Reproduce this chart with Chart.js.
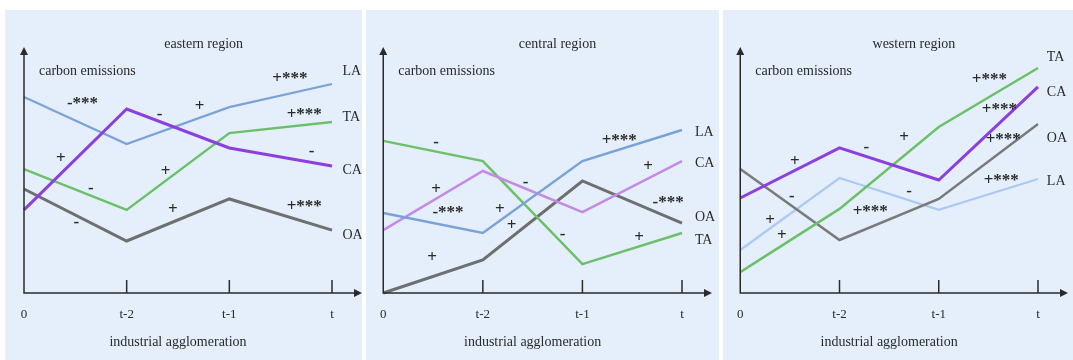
<!DOCTYPE html>
<html>
<head>
<meta charset="utf-8">
<script src="https://cdn.jsdelivr.net/npm/chart.js@4.4.1/dist/chart.umd.min.js"></script>
<style>
    body { margin: 0; background: #ffffff; width: 1073px; height: 360px; position: relative; overflow: hidden; }
    .panel { position: absolute; top: 10px; height: 350px; background: #e5effb; }
    .panel canvas { display: block; }
</style>
</head>
<body>
<div class="panel" style="left:5px;width:357px"><canvas id="east" width="357" height="350"></canvas></div>
<div class="panel" style="left:366px;width:353px"><canvas id="central" width="353" height="350"></canvas></div>
<div class="panel" style="left:723px;width:350px"><canvas id="west" width="350" height="350"></canvas></div>
<script>
// periods on the x axis
const periods = ["0", "t-2", "t-1", "t"];

// eastern region
const eastLA = [80.7, 61.3, 76.5, 86.0];
const eastCA = [34.2, 75.7, 59.7, 52.3];
const eastTA = [51.0, 34.2, 65.8, 70.4];
const eastOA = [42.8, 21.4, 38.7, 25.9];

// central region
const centralLA = [32.9, 24.7, 54.3, 67.1];
const centralCA = [25.9, 50.2, 33.3, 54.3];
const centralTA = [62.6, 54.3, 11.9, 24.7];
const centralOA = [0, 13.6, 46.1, 28.8];

// western region
const westLA = [17.7, 47.3, 34.2, 46.9];
const westCA = [39.1, 59.7, 46.5, 84.8];
const westTA = [8.6, 34.6, 68.3, 92.6];
const westOA = [51.0, 21.8, 38.7, 69.5];

// series name tags at the line ends: [text, x, y]
const eastTags = [["LA", 3.18, 91.4], ["TA", 3.18, 72.4], ["CA", 3.18, 50.6], ["OA", 3.18, 23.9]];
const centralTags = [["LA", 3.21, 66.3], ["CA", 3.21, 53.5], ["OA", 3.21, 31.3], ["TA", 3.21, 21.8]];
const westTags = [["TA", 3.17, 97.1], ["CA", 3.17, 82.7], ["OA", 3.17, 63.8], ["LA", 3.17, 46.1]];

// significance signs: [text, x, y]
const eastSigns = [
    ["-***", 0.57, 77.8], ["+", 1.71, 76.5], ["-", 1.32, 73.3], ["+***", 2.59, 88.1],
    ["+***", 2.73, 73.3], ["-", 2.80, 58.0], ["+", 0.36, 55.1], ["-", 0.65, 42.8],
    ["+", 1.38, 49.8], ["+", 1.45, 34.2], ["+***", 2.73, 35.4], ["-", 0.51, 28.8]
];
const centralSigns = [
    ["-", 0.53, 61.7], ["+", 0.53, 42.4], ["-***", 0.65, 32.9], ["+", 1.17, 34.2],
    ["-", 1.43, 45.3], ["+", 1.29, 27.6], ["+", 0.49, 14.4], ["-", 1.80, 23.9],
    ["+***", 2.37, 62.6], ["+", 2.66, 51.9], ["-***", 2.86, 37.4], ["+", 2.57, 22.6]
];
const westSigns = [
    ["+***", 2.51, 87.7], ["+***", 2.61, 75.3], ["+***", 2.65, 63.0], ["+***", 2.63, 46.1],
    ["+", 1.65, 63.8], ["-", 1.27, 59.7], ["+", 0.55, 53.9], ["-", 0.52, 39.5],
    ["-", 1.70, 41.6], ["+***", 1.31, 33.3], ["+", 0.30, 29.6], ["+", 0.42, 23.5]
];

const serif = "'Liberation Serif', 'Times New Roman', serif";
const ink = "#2a2a2a";

const sketchPlugin = {
    id: "sketch",
    afterDraw(chart) {
        const ctx = chart.ctx;
        const area = chart.chartArea;
        const xs = chart.scales.x;
        const ys = chart.scales.y;
        const opts = chart.options.plugins.sketch;
        ctx.save();
        ctx.strokeStyle = ink;
        ctx.fillStyle = ink;
        ctx.lineWidth = 1.5;

        // axes
        ctx.beginPath();
        ctx.moveTo(area.left, area.top + 2);
        ctx.lineTo(area.left, area.bottom);
        ctx.lineTo(area.right + 24, area.bottom);
        ctx.stroke();
        ctx.beginPath();
        ctx.moveTo(area.left, area.top - 3);
        ctx.lineTo(area.left - 4, area.top + 5);
        ctx.lineTo(area.left + 4, area.top + 5);
        ctx.closePath();
        ctx.fill();
        ctx.beginPath();
        ctx.moveTo(area.right + 30, area.bottom);
        ctx.lineTo(area.right + 22, area.bottom - 4);
        ctx.lineTo(area.right + 22, area.bottom + 4);
        ctx.closePath();
        ctx.fill();

        // tick marks pointing up
        for (let i = 1; i < periods.length; i++) {
            const px = xs.getPixelForValue(i);
            ctx.beginPath();
            ctx.moveTo(px, area.bottom);
            ctx.lineTo(px, area.bottom - 13);
            ctx.stroke();
        }

        ctx.font = "14px " + serif;
        ctx.textBaseline = "middle";
        ctx.textAlign = "center";
        ctx.fillText(opts.region, xs.getPixelForValue(1.75), area.top - 6);
        ctx.textAlign = "left";
        ctx.fillText("carbon emissions", area.left + 15, area.top + 21);

        ctx.font = "14px " + serif;
        opts.tags.forEach(([text, x, y]) => {
            ctx.fillText(text, xs.getPixelForValue(x) - 8, ys.getPixelForValue(y));
        });

        ctx.textAlign = "center";
        ctx.font = "bold 17px " + serif;
        opts.signs.forEach(([text, x, y]) => {
            ctx.fillText(text, xs.getPixelForValue(x), ys.getPixelForValue(y));
        });
        ctx.restore();
    }
};

function line(values, color, width) {
    return {
        data: values,
        borderColor: color,
        borderWidth: width,
        pointRadius: 0,
        tension: 0,
        clip: false
    };
}

function drawRegion(canvasId, region, datasets, tags, signs, pad) {
    new Chart(document.getElementById(canvasId), {
        type: "line",
        data: { labels: periods, datasets: datasets },
        options: {
            responsive: false,
            animation: false,
            layout: { padding: { left: pad[0], right: pad[1], top: 40, bottom: 0 } },
            plugins: {
                legend: { display: false },
                tooltip: { enabled: false },
                sketch: { region: region, tags: tags, signs: signs }
            },
            scales: {
                x: {
                    offset: false,
                    grid: { display: false, drawTicks: false },
                    border: { display: false },
                    ticks: { color: ink, padding: 14, font: { family: serif, size: 13 }, maxRotation: 0 },
                    title: {
                        display: true,
                        text: "industrial agglomeration",
                        color: ink,
                        font: { family: serif, size: 14 },
                        padding: { top: 0, bottom: 9 }
                    },
                    afterFit(scale) { scale.height = 67; }
                },
                y: { display: false, min: 0, max: 100 }
            }
        },
        plugins: [sketchPlugin]
    });
}

drawRegion("east", "eastern region", [
    line(eastCA, "#8b3fde", 3),
    line(eastLA, "#7ba2d8", 2.2),
    line(eastTA, "#6cc06a", 2.5),
    line(eastOA, "#6f6f6f", 3)
], eastTags, eastSigns, [19, 30]);

drawRegion("central", "central region", [
    line(centralLA, "#7ba2d8", 2.5),
    line(centralCA, "#c48ae6", 2.5),
    line(centralTA, "#6cc06a", 2.5),
    line(centralOA, "#6f6f6f", 3)
], centralTags, centralSigns, [12, 37]);

drawRegion("west", "western region", [
    line(westCA, "#8b3fde", 3),
    line(westTA, "#6cc06a", 2.5),
    line(westOA, "#7a7a7a", 2.5),
    line(westLA, "#abc9f3", 2.2)
], westTags, westSigns, [9, 35]);
</script>
</body>
</html>
